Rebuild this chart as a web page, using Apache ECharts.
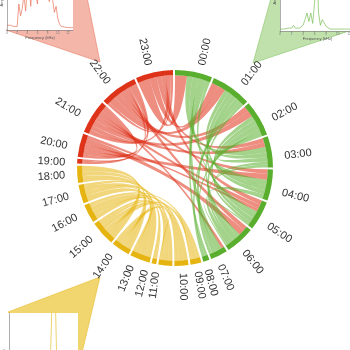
<!DOCTYPE html>
<html><head><meta charset="utf-8">
<script src="https://cdn.jsdelivr.net/npm/echarts@6/dist/echarts.min.js"></script>
<style>html,body{margin:0;padding:0;background:#fff}#c{width:350px;height:350px}</style>
</head><body><div id="c"></div>
<script>
const hours = ['00:00','01:00','02:00','03:00','04:00','05:00','06:00','07:00','08:00','09:00','10:00','11:00',
  '12:00','13:00','14:00','15:00','16:00','17:00','18:00','19:00','20:00','21:00','22:00','23:00'];
// links: source hour index, target hour index, value
const linkSource = [23,23,23,23,23,23, 22,22,22,22,22,22,22, 21,21,21,21,21,21, 20,20,20,
  0,0,0,0,0, 1,1,1,1,1,1, 2,2,2,2,2, 3,3, 4, 5,
  18,18,18, 17,17,17,17, 16,16,16,16,16, 15,15,15,15, 14,14,14, 11];
const linkTarget = [0,1,3,5,21,22, 1,2,4,6,19,21,20, 2,3,5,7,20,19, 4,6,5,
  3,4,7,8,5, 3,4,5,7,8,6, 4,5,6,7,3, 5,6, 6, 6,
  13,14,15, 13,14,11,15, 13,11,10,12,9, 10,9,11,12, 13,10,9, 9];
const linkValue = [8,5,3,3,3,2, 5,4,3,3,2,3,2, 4,3,3,2,3,1, 4,4,2,
  4,4,4,2,2, 3,3,3,3,2,2, 3,3,4,2,3, 2,2, 3, 1,
  4,3,4, 4,3,3,2, 3,3,3,1,2, 3,3,2,2, 2,3,1, 1];

const freqTicks = ['0','2','4','6','8','10','12'];
const spectrumRed = [0.04,0.04,0.04,0.035,0.03,0.03,0.03,0.22,0.12,0.18,0.30,0.16,0.35,0.42,0.20,0.38,0.50,0.30,0.22,0.45,
  0.55,0.35,0.42,0.48,0.30,0.24,0.36,0.25,0.15,0.20,0.10,0.05,0.03,0.03,0.025,0.025,0.02,0.02,0.02,0.02];
const spectrumGreen = [0.02,0.02,0.02,0.02,0.03,0.04,0.03,0.06,0.03,0.02,0.03,0.04,0.06,0.12,0.19,0.10,0.19,0.08,0.30,1.00,
  0.20,0.06,0.12,0.10,0.05,0.03,0.02,0.02,0.02,0.02,0.02,0.02,0.02,0.02,0.02,0.02,0.02,0.02,0.02,0.02];
const spectrumYellow = [0.02,0.02,0.02,0.02,0.02,0.02,0.02,0.02,0.02,0.02,0.02,0.02,0.02,0.02,0.02,0.02,0.02,0.02,0.02,0.02,
  0.02,0.03,0.05,0.10,0.40,1.00,0.60,0.20,0.06,0.03,0.02,0.02,0.02,0.02,0.02,0.02,0.02,0.02,0.02,0.02];

const RED = '#de3219', GREEN = '#5aae2e', YELLOW = '#e6b410';
function hourColor(i) { return i <= 8 ? GREEN : (i <= 18 ? YELLOW : RED); }

// node totals (sum of link values touching each hour) for the label ring
const hourTotals = hours.map((h, i) => linkSource.reduce((acc, s, k) =>
  acc + (s === i ? linkValue[k] : 0) + (linkTarget[k] === i ? linkValue[k] : 0), 0));

const chart = echarts.init(document.getElementById('c'), null, {renderer: 'canvas'});

function insetGrid(box) {
  return Object.assign({show: true, backgroundColor: '#fff', borderWidth: 0, containLabel: false, outerBoundsMode: 'none', z: 3}, box);
}
function insetX(gi) {
  return {type: 'category', gridIndex: gi, data: spectrumRed.map((v, k) => k), boundaryGap: false,
    name: 'Frequency (kHz)', nameLocation: 'middle', nameGap: 6,
    nameTextStyle: {fontSize: 4, color: '#555'},
    axisLine: {lineStyle: {color: '#777', width: 0.6}}, axisTick: {show: true, interval: 5, length: 1.5, lineStyle: {color: '#777', width: 0.5}},
    axisLabel: {show: true, interval: 5, fontSize: 3, color: '#777', margin: 2, formatter: (v, k) => freqTicks[Math.floor(k / 6)] || ''},
    z: 4};
}
function insetY(gi, max) {
  return {type: 'value', gridIndex: gi, min: 0, max: max, name: 'Amplitude', nameLocation: 'middle', nameGap: 3,
    nameTextStyle: {fontSize: 4, color: '#555'},
    axisLine: {show: true, lineStyle: {color: '#777', width: 0.6}}, axisTick: {show: false}, axisLabel: {show: false}, splitLine: {show: false}, z: 4};
}

const option = {
  backgroundColor: '#fff',
  animation: false,
  graphic: [
    {type: 'polygon', z: -5, shape: {points: [[6, 30], [86, -8], [100, 62]]}, style: {fill: 'rgba(235,110,85,0.5)', stroke: 'rgba(225,90,60,0.7)', lineWidth: 0.6}},
    {type: 'polygon', z: -5, shape: {points: [[253, 63], [276, -20], [370, 24]]}, style: {fill: 'rgba(130,195,90,0.5)', stroke: 'rgba(100,180,60,0.7)', lineWidth: 0.6}},
    {type: 'polygon', z: -5, shape: {points: [[8, 312], [100, 277], [78, 370]]}, style: {fill: 'rgba(235,195,50,0.7)', stroke: 'rgba(230,180,20,0.8)', lineWidth: 0.6}}
  ],
  grid: [
    insetGrid({left: 7, top: -35, width: 66, height: 65}),
    insetGrid({left: 280, top: -40, width: 75, height: 71}),
    insetGrid({left: 9, top: 313, width: 69, height: 90})
  ],
  xAxis: [insetX(0), insetX(1), insetX(2)],
  yAxis: [insetY(0, 0.55), insetY(1, 0.75), insetY(2, 0.45)],
  series: [
    {type: 'line', xAxisIndex: 0, yAxisIndex: 0, data: spectrumRed, symbol: 'none', lineStyle: {color: '#e8735c', width: 0.7}, z: 5},
    {type: 'line', xAxisIndex: 1, yAxisIndex: 1, data: spectrumGreen, symbol: 'none', lineStyle: {color: '#79bf55', width: 0.7}, z: 5},
    {type: 'line', xAxisIndex: 2, yAxisIndex: 2, data: spectrumYellow, symbol: 'none', lineStyle: {color: '#e8c030', width: 0.7}, z: 5},
    {
      type: 'chord',
      center: ['50%', '48%'],
      radius: ['53%', '56%'],
      startAngle: 90,
      clockwise: true,
      padAngle: 1.2,
      minAngle: 0,
      data: hours.map((h, i) => ({name: h, itemStyle: {color: hourColor(i)}})),
      links: linkSource.map((s, k) => ({source: hours[s], target: hours[linkTarget[k]], value: linkValue[k]})),
      lineStyle: {color: 'source', opacity: 0.55},
      itemStyle: {borderRadius: 0},
      label: {show: false}
    },
    {
      type: 'pie',
      silent: true,
      center: ['50%', '48%'],
      radius: ['53%', '56%'],
      startAngle: 90,
      clockwise: true,
      padAngle: 1.2,
      avoidLabelOverlap: false,
      minShowLabelAngle: 0,
      itemStyle: {color: 'rgba(0,0,0,0)'},
      data: hours.map((h, i) => ({name: h, value: hourTotals[i]})),
      label: {show: true, position: 'outside', rotate: 'radial', fontSize: 11, color: '#333',
        fontFamily: 'Liberation Sans, Arial, sans-serif', alignTo: 'none'},
      labelLine: {show: false, length: 7, length2: 0},
      labelLayout: {hideOverlap: false},
      emphasis: {disabled: true}
    }
  ]
};
chart.setOption(option);
</script></body></html>
